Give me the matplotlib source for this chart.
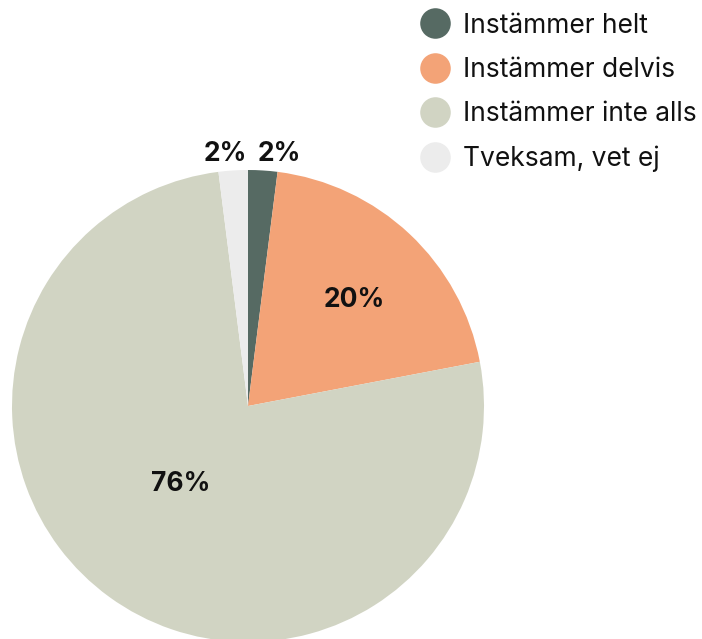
import matplotlib.pyplot as plt
from matplotlib.lines import Line2D

# survey answers (percent)
categories = ["Instämmer helt", "Instämmer delvis", "Instämmer inte alls", "Tveksam, vet ej"]
values = [2, 20, 76, 2]
pct_labels = ["2%", "20%", "76%", "2%"]
colors = ["#566a63", "#f3a377", "#d1d4c3", "#ececec"]

# where each percent label sits (pie data coords, radius = 1)
label_pos = [(0.131, 1.068), (0.449, 0.449), (-0.284, -0.331), (-0.097, 1.068)]

plt.rcParams['font.family'] = ['Inter', 'DejaVu Sans']

fig = plt.figure(figsize=(7.02, 6.39), dpi=100)
W, H = 702, 639
cx, cy, r = 248, 406, 236
ax = fig.add_axes([(cx - r) / W, (H - cy - r) / H, 2 * r / W, 2 * r / H])

wedges, _ = ax.pie(values, colors=colors, startangle=90, counterclock=False,
                   radius=1, wedgeprops={"linewidth": 0})
ax.set_xlim(-1, 1)
ax.set_ylim(-1, 1)
ax.set_aspect("equal")
ax.axis("off")

for (x, y), txt in zip(label_pos, pct_labels):
    ax.text(x, y, txt, ha="center", va="center", fontsize=19, fontweight="bold",
            color="#111111")

handles = [Line2D([], [], marker="o", linestyle="", markersize=22,
                  markerfacecolor=c, markeredgewidth=0) for c in colors]
fig.legend(handles, categories, loc="upper left", bbox_to_anchor=(417 / W, 1 - 10 / H),
           frameon=False, fontsize=19, handletextpad=0.45, labelspacing=0.69,
           handlelength=1.2, borderaxespad=0, borderpad=0.1, labelcolor="#111111")

fig.savefig("out.png", dpi=100)
